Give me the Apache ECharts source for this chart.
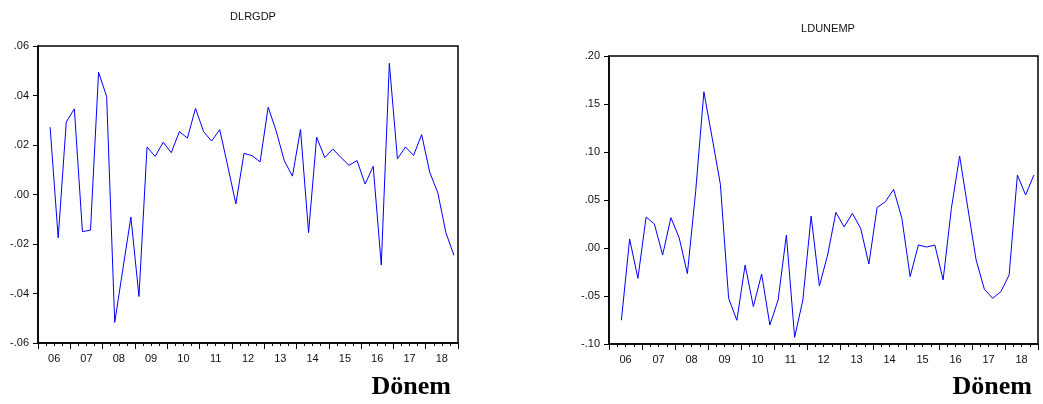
<!DOCTYPE html>
<html>
<head>
<meta charset="utf-8">
<script src="https://cdn.jsdelivr.net/npm/echarts@6/dist/echarts.min.js"></script>
<style>
  html, body { margin: 0; padding: 0; background: #fff; }
  #chart { width: 1043px; height: 404px; }
</style>
</head>
<body>
<div id="chart"></div>
<script>
// year labels on the x axis (quarterly data, 2006Q1 - 2018Q4)
const years = ['06', '07', '08', '09', '10', '11', '12', '13', '14', '15', '16', '17', '18']

// DLRGDP, 2006Q2 .. 2018Q4
const dlrgdp = [
  0.0272, -0.0175, 0.0293, 0.0346, -0.0150, -0.0144, 0.0494, 0.0396,
  -0.0517, -0.0303, -0.0091, -0.0412, 0.0192, 0.0154, 0.0211, 0.0169,
  0.0254, 0.0228, 0.0348, 0.0254, 0.0216, 0.0262, 0.0114, -0.0038,
  0.0166, 0.0157, 0.0132, 0.0353, 0.0255, 0.0136, 0.0074, 0.0263,
  -0.0154, 0.0232, 0.0149, 0.0184, 0.0150, 0.0118, 0.0137, 0.0042,
  0.0114, -0.0285, 0.0530, 0.0144, 0.0192, 0.0158, 0.0242, 0.0090,
  0.0007, -0.0154, -0.0246
]

// LDUNEMP, 2006Q2 .. 2018Q4
const ldunemp = [
  -0.0753, 0.0094, -0.0316, 0.0323, 0.0250, -0.0073, 0.0316, 0.0108,
  -0.0267, 0.0586, 0.1627, 0.1149, 0.0663, -0.0524, -0.0753, -0.0177,
  -0.0611, -0.0271, -0.0802, -0.0541, 0.0135, -0.0930, -0.0541, 0.0333,
  -0.0396, -0.0073, 0.0371, 0.0219, 0.0361, 0.0205, -0.0167, 0.0423,
  0.0482, 0.0611, 0.0309, -0.0298, 0.0031, 0.0010, 0.0031, -0.0333,
  0.0413, 0.0958, 0.0413, -0.0125, -0.0430, -0.0524, -0.0455, -0.0281,
  0.0760, 0.0552, 0.0760
]

const quarters = []
years.forEach(y => { for (let q = 1; q <= 4; q++) quarters.push(y + 'Q' + q) })

const fmt = v => {
  const s = v.toFixed(2)
  return s.replace('0.', '.')
}

const black = '#000'
const font = 'Liberation Sans, Arial, sans-serif'

function quarterAxis (grid) {
  return {
    type: 'category', gridIndex: grid, data: quarters, boundaryGap: true, position: 'bottom',
    axisLine: { show: true, onZero: false, lineStyle: { color: black, width: 1.5 } },
    axisTick: { show: true, alignWithLabel: false, interval: 0, length: 3, lineStyle: { color: black, width: 1 } },
    axisLabel: { show: false }
  }
}
function yearAxis (grid) {
  return {
    type: 'category', gridIndex: grid, data: years, boundaryGap: true, position: 'bottom',
    axisLine: { show: false, onZero: false },
    axisTick: { show: true, alignWithLabel: false, interval: 0, length: 6, lineStyle: { color: black, width: 1 } },
    axisLabel: { interval: 0, margin: 10, color: '#111', fontSize: 11, fontFamily: font }
  }
}
function valueAxis (grid, min, max, step) {
  return {
    type: 'value', gridIndex: grid, min: min, max: max, interval: step,
    axisLine: { show: true, onZero: false, lineStyle: { color: black, width: 1.5 } },
    axisTick: { show: true, inside: false, length: 5, lineStyle: { color: black, width: 1 } },
    splitLine: { show: false },
    axisLabel: { formatter: fmt, margin: 9, color: '#111', fontSize: 11, fontFamily: font }
  }
}

const chart = echarts.init(document.getElementById('chart'))
chart.setOption({
  animation: false,
  backgroundColor: '#fff',
  title: [
    { text: 'DLRGDP', left: 248, top: 6, textAlign: 'center',
      textStyle: { fontSize: 11, fontWeight: 'normal', color: '#111', fontFamily: font } },
    { text: 'LDUNEMP', left: 823, top: 18, textAlign: 'center',
      textStyle: { fontSize: 11, fontWeight: 'normal', color: '#111', fontFamily: font } },
    { text: 'Dönem', right: 1043 - 456, top: 369,
      textStyle: { fontSize: 26, fontWeight: 'bold', color: '#000', fontFamily: 'Liberation Serif, Times New Roman, serif' } },
    { text: 'Dönem', right: 6, top: 369,
      textStyle: { fontSize: 26, fontWeight: 'bold', color: '#000', fontFamily: 'Liberation Serif, Times New Roman, serif' } }
  ],
  grid: [
    { left: 38, top: 46, width: 420, height: 297, show: true, borderColor: black, borderWidth: 1.5, backgroundColor: 'transparent' },
    { left: 609, top: 56, width: 429, height: 288, show: true, borderColor: black, borderWidth: 1.5, backgroundColor: 'transparent' }
  ],
  xAxis: [quarterAxis(0), yearAxis(0), quarterAxis(1), yearAxis(1)],
  yAxis: [valueAxis(0, -0.06, 0.06, 0.02), valueAxis(1, -0.10, 0.20, 0.05)],
  series: [
    { type: 'line', xAxisIndex: 0, yAxisIndex: 0, data: [null].concat(dlrgdp),
      symbol: 'none', lineStyle: { color: '#0000ff', width: 1 } },
    { type: 'line', xAxisIndex: 2, yAxisIndex: 1, data: [null].concat(ldunemp),
      symbol: 'none', lineStyle: { color: '#0000ff', width: 1 } }
  ]
})
</script>
</body>
</html>
